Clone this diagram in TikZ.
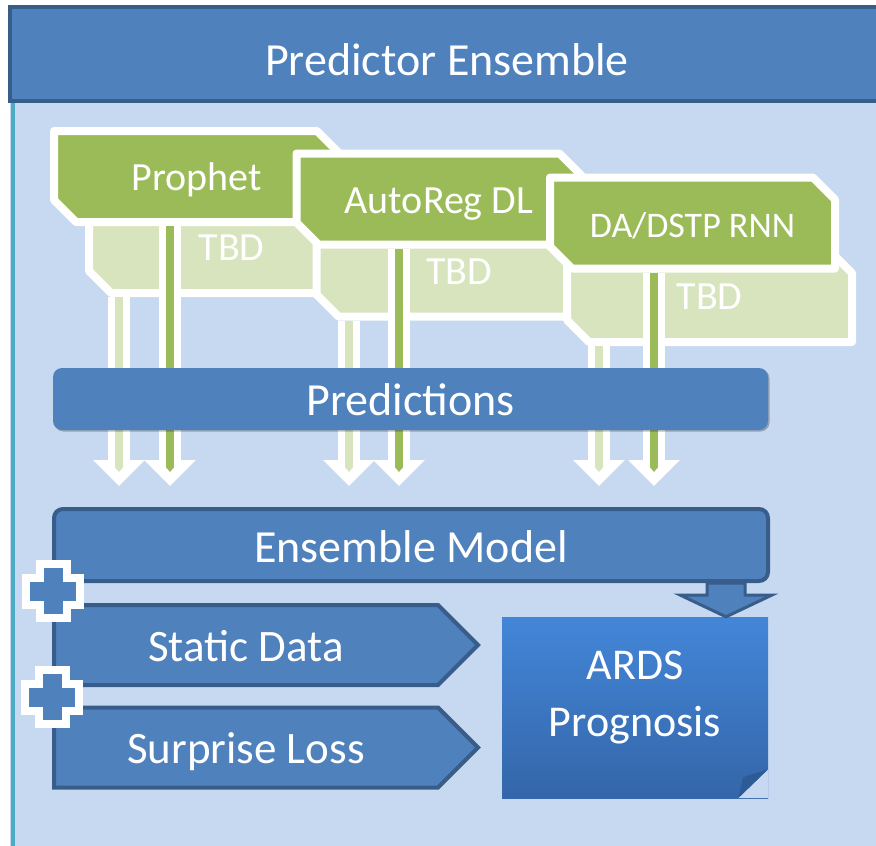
\documentclass[tikz,border=0pt]{standalone}
\usepackage{fontspec}
\setmainfont{Carlito}
\usetikzlibrary{positioning,shapes.misc,shapes.symbols,shadows,arrows.meta}

\definecolor{paneblue}{HTML}{C6D9F0}
\definecolor{barblue}{HTML}{4F81BD}
\definecolor{edgeblue}{HTML}{385D8A}
\definecolor{modelgreen}{HTML}{9BBB59}
\definecolor{tbdgreen}{HTML}{D7E4BD}
\definecolor{sidecyan}{HTML}{4BACC6}
\definecolor{ardstop}{HTML}{4386D8}
\definecolor{ardsbot}{HTML}{3466A9}
\definecolor{ardsfold}{HTML}{2E5A95}

\tikzstyle{softshadow}=[drop shadow={shadow xshift=1.5pt,shadow yshift=-1.5pt,opacity=0.25,fill=black}]
\tikzstyle{modelbox}=[chamfered rectangle, chamfered rectangle corners={north east,south west}, chamfered rectangle xsep=11pt, chamfered rectangle ysep=11pt, minimum width=285pt, minimum height=91pt, inner sep=0pt, fill=modelgreen, draw=white, line width=8pt, line join=round, text=white, font=\fontsize{40}{48}\selectfont, text height=28pt, text depth=0pt, softshadow]
\tikzstyle{tbdbox}=[modelbox, fill=tbdgreen, text height=26pt]
\tikzstyle{bluebar}=[rectangle, rounded corners=9pt, fill=barblue, text=white, font=\fontsize{46}{55}\selectfont, inner sep=0pt, text depth=0pt]
\tikzstyle{inputbox}=[signal, signal to=east, signal pointer angle=90, fill=barblue, draw=edgeblue, line width=4pt, minimum width=424pt, minimum height=80pt, inner sep=0pt, text=white, font=\fontsize{45}{54}\selectfont, text height=32pt, text depth=0pt]
\tikzstyle{ardsbox}=[rectangle, top color=ardstop, bottom color=ardsbot, minimum width=266pt, minimum height=181pt, inner sep=0pt]
\tikzstyle{ardstext}=[align=center, text=white, font=\fontsize{44}{57}\selectfont]
\tikzstyle{shaft}=[white, line width=22pt, -{Triangle[width=50pt,length=26pt]}]
\tikzstyle{core}=[line width=8pt, -{Triangle[width=8pt,length=5pt]}]
\tikzstyle{blockarrow}=[fill=barblue, draw=edgeblue, line width=3pt, line join=miter]

\newcommand{\plusmark}[1]{%
  \fill[white] (#1) +(-17.5,-31) rectangle +(17.5,31);
  \fill[white] (#1) +(-31,-17.5) rectangle +(31,17.5);
  \fill[barblue] (#1) +(-9.5,-23) rectangle +(9.5,23);
  \fill[barblue] (#1) +(-23,-9.5) rectangle +(23,9.5);
}

\begin{document}
\begin{tikzpicture}[x=1pt, y=-1pt]
    \useasboundingbox (0,0) rectangle (876,846);
    \fill[white] (0,0) rectangle (876,846);

    % pane and title bar
    \fill[paneblue] (10,5) rectangle (884,850);
    \draw[sidecyan, line width=4pt] (13,103) -- (13,850);
    \node[bluebar, rounded corners=0pt, draw=edgeblue, line width=4pt, minimum width=874pt, minimum height=94pt, text height=42pt] (title) at (447,54) {Predictor Ensemble};

    % predictor models, each with its TBD card behind
    \node[tbdbox] (prophettbd) at (231.5,247.5) {TBD};
    \node[modelbox] (prophet) at (196.5,176.5) {Prophet};
    \node[tbdbox] (autoregtbd) at (459,271) {TBD};
    \node[modelbox] (autoreg) at (439,199) {AutoReg DL};
    \node[tbdbox] (dstptbd) at (709.5,296.5) {TBD};
    \node[modelbox, font=\fontsize{36}{43}\selectfont] (dstp) at (692.5,223) {DA/DSTP RNN};

    % outputs going down to the ensemble
    \foreach \x/\src/\col in {119/prophettbd/tbdgreen, 170/prophet/modelgreen, 349/autoregtbd/tbdgreen, 399/autoreg/modelgreen, 599/dstptbd/tbdgreen, 654/dstp/modelgreen}
    {
        \coordinate (tip-\src) at (\x,486);
        \draw[shaft] (tip-\src |- \src.south) -- (tip-\src);
        \draw[core, \col] (tip-\src |- \src.south) -- ([yshift=14pt]tip-\src);
    }

    \node[bluebar, minimum width=715pt, minimum height=62pt, text height=32pt, softshadow] (preds) at (410.5,399) {Predictions};

    % ensemble and its inputs
    \node[bluebar, draw=edgeblue, line width=4pt, minimum width=714pt, minimum height=72pt, text height=34pt] (ensemble) at (411,545) {Ensemble Model};
    \node[inputbox] (static) at (246,645) {Static Data};
    \node[inputbox] (surprise) at (246,747.5) {Surprise Loss};

    \node[ardsbox] (ards) at (635,707.5) {};
    \fill[paneblue] (ards.south east) -- ([yshift=29pt]ards.south east) -- ([xshift=-30pt]ards.south east) -- cycle;
    \fill[ardsfold] ([yshift=29pt]ards.south east) -- ([xshift=-30pt]ards.south east) -- ([shift={(-25pt,21pt)}]ards.south east) -- cycle;
    \node[ardstext] (ardslabel) at ([yshift=10pt]ards.center) {ARDS\\Prognosis};

    \coordinate (etop) at (726,0 |- ensemble.south);
    \draw[blockarrow] ([shift={(-19,0)}]etop) -- ([shift={(-19,12)}]etop) -- ([shift={(-46,12)}]etop) -- (etop |- ards.north) -- ([shift={(46,12)}]etop) -- ([shift={(19,12)}]etop) -- ([shift={(19,0)}]etop) -- cycle;

    \coordinate (plusa) at (53,591);
    \coordinate (plusb) at (52,697);
    \plusmark{plusa}
    \plusmark{plusb}
\end{tikzpicture}
\end{document}
